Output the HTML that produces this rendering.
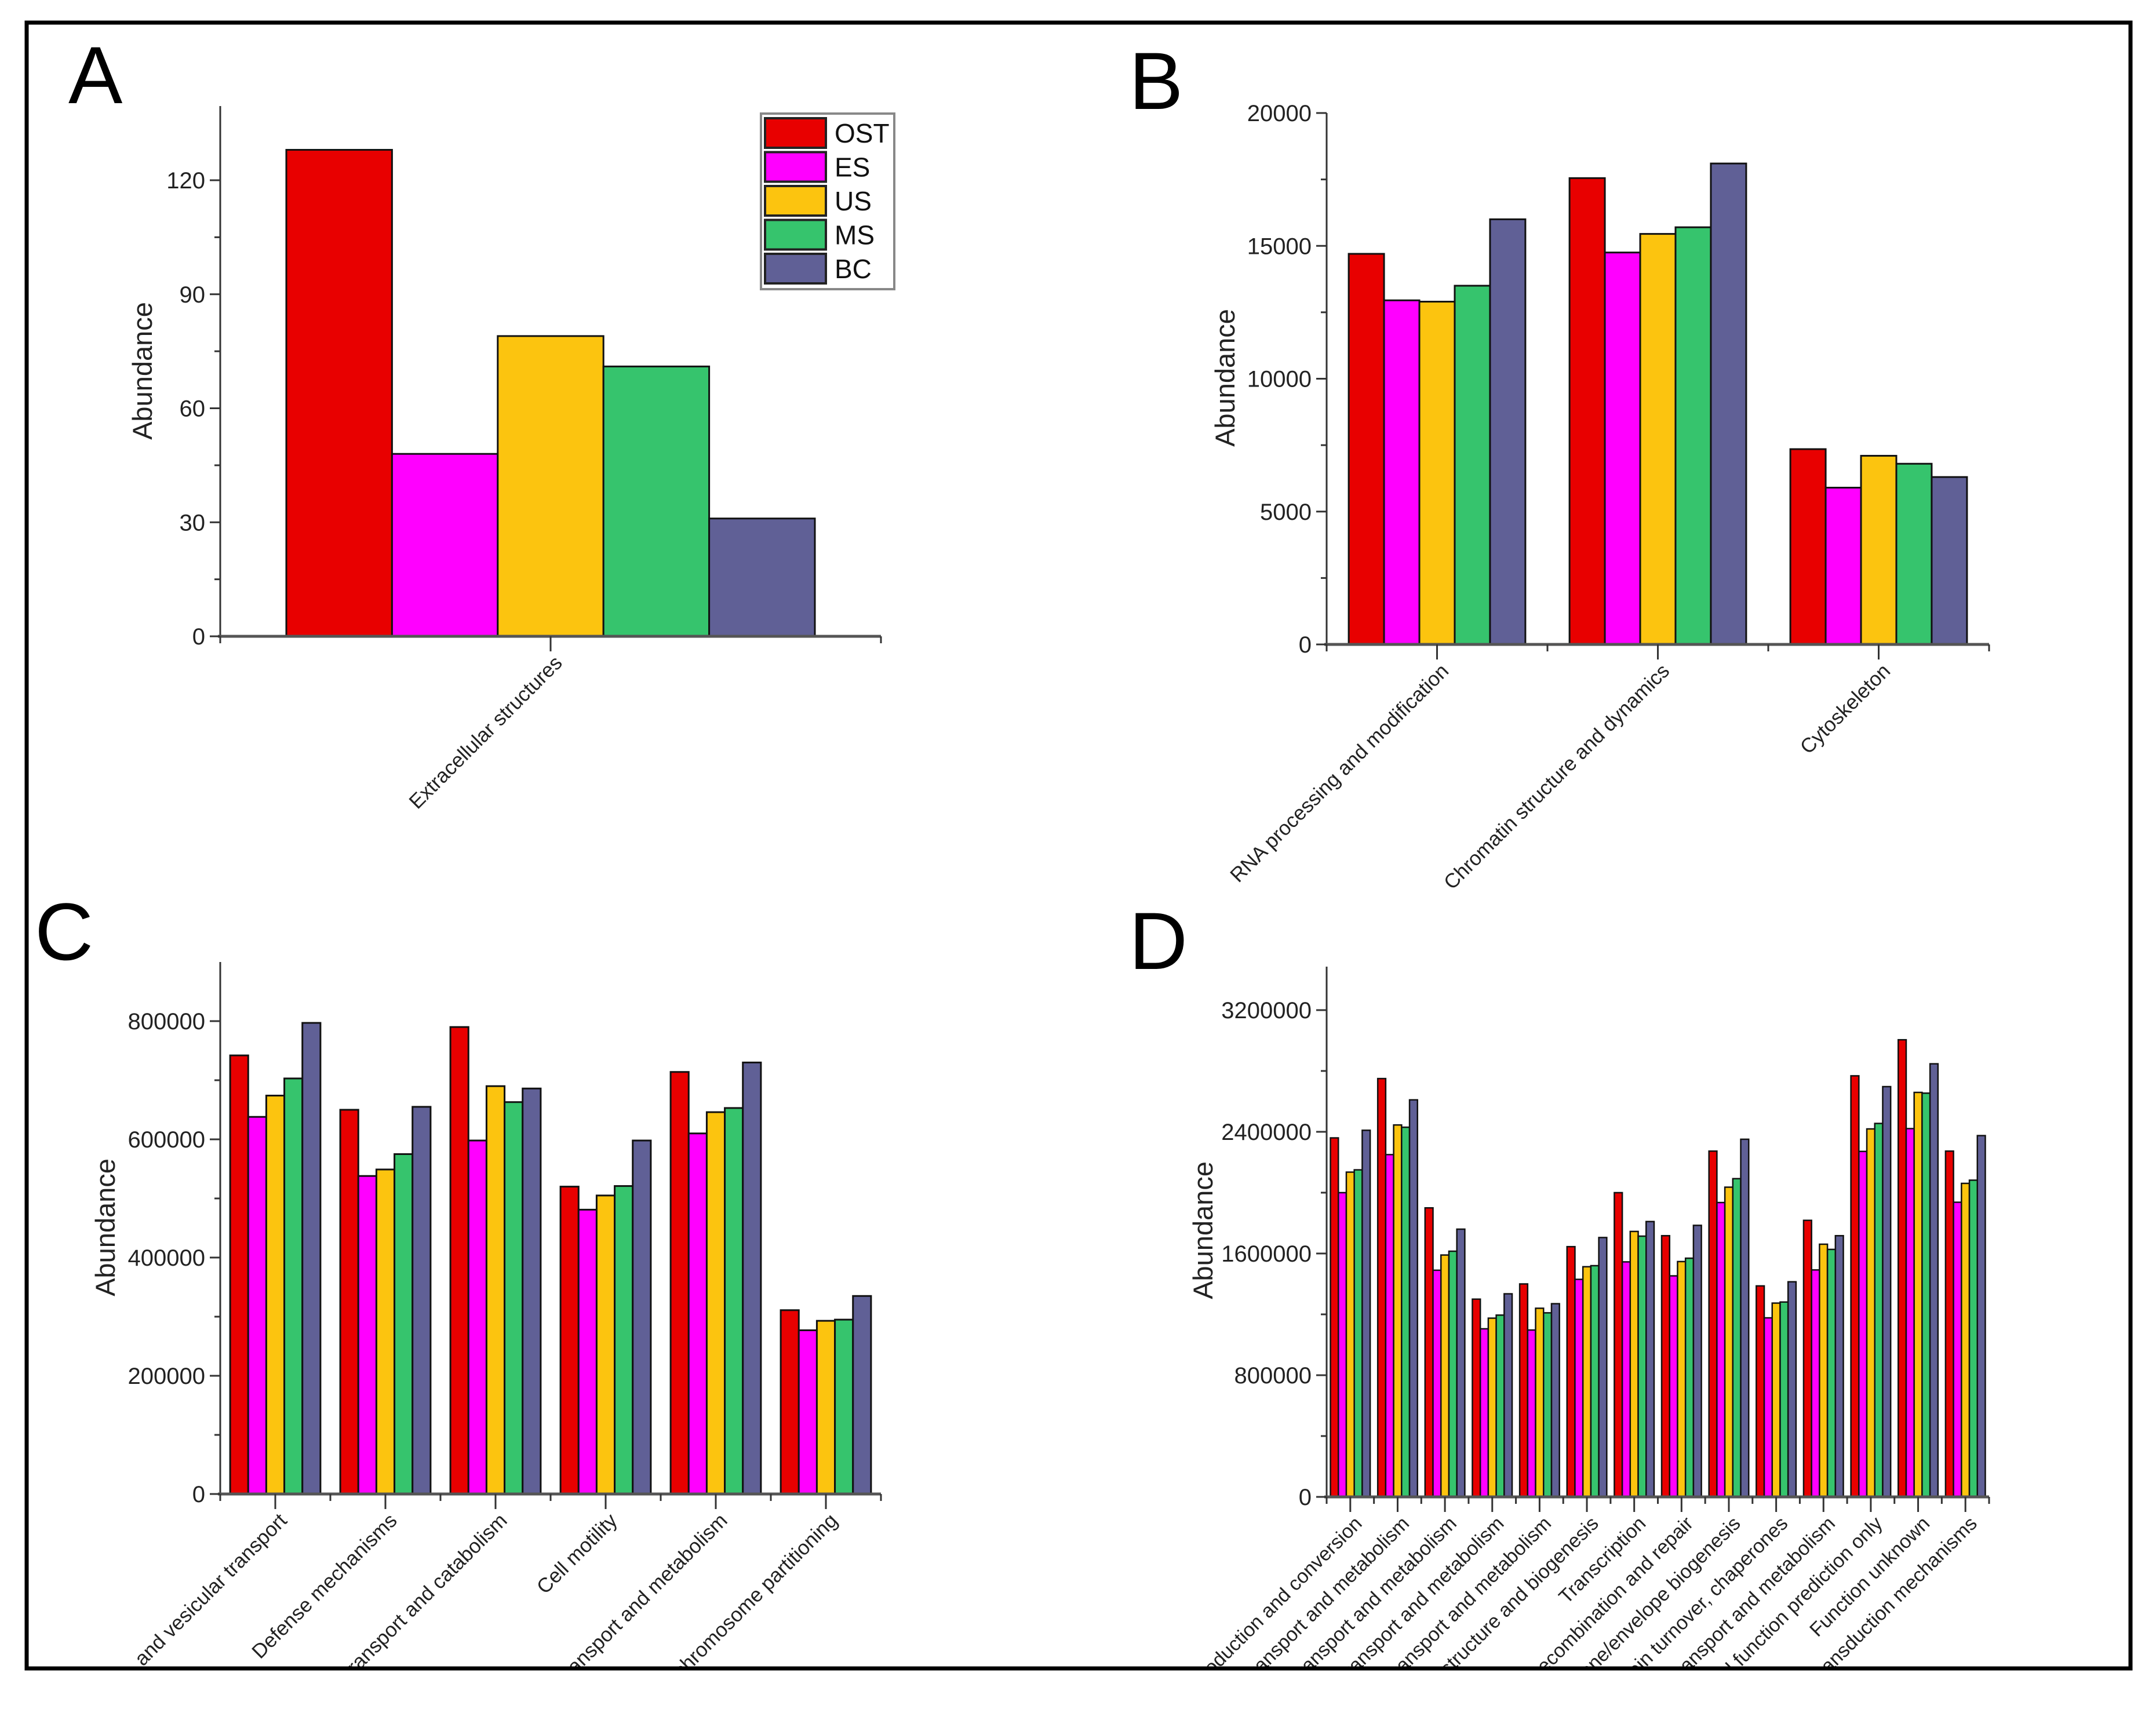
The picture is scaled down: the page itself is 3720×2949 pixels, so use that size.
<!DOCTYPE html>
<html><head><meta charset="utf-8"><style>
html,body{margin:0;padding:0;background:#fff;overflow:hidden;width:3720px;height:2949px}
svg{display:block;font-family:"Liberation Sans",Arial,sans-serif}
</style></head><body>
<svg id="fig" xmlns="http://www.w3.org/2000/svg" width="3720" height="2949" viewBox="0 0 3720 2949">
<defs><clipPath id="frameclip"><rect x="46" y="39" width="3630" height="2840"/></clipPath></defs>
<rect x="0" y="0" width="3720" height="2949" fill="#fff"/>
<g id="content" clip-path="url(#frameclip)"></g>
<rect x="46" y="39" width="3630" height="2840" fill="none" stroke="#000" stroke-width="7"/>
</svg>
<script>
const seriesNames = ["OST","ES","US","MS","BC"];
const seriesColors = ["#e80000","#ff00ff","#fcc40f","#36c46d","#606096"];

const catsA = ["Extracellular structures"];
const valsA = [[128],[48],[79],[71],[31]];
const ticksA = [0,30,60,90,120];

const catsB = ["RNA processing and modification","Chromatin structure and dynamics","Cytoskeleton"];
const ostB = [14700,17550,7350];
const esB = [12950,14750,5900];
const usB = [12900,15450,7100];
const msB = [13500,15700,6800];
const bcB = [16000,18100,6300];
const ticksB = [0,5000,10000,15000,20000];

const catsC = ["Intracellular trafficking, secretion, and vesicular transport","Defense mechanisms","Secondary metabolites biosynthesis, transport and catabolism","Cell motility","Inorganic ion transport and metabolism","Cell cycle control, cell division, chromosome partitioning"];
const ostC = [742000,650000,790000,520000,714000,311000];
const esC = [638000,538000,598000,481000,610000,277000];
const usC = [674000,549000,690000,505000,646000,293000];
const msC = [703000,575000,663000,521000,653000,295000];
const bcC = [797000,655000,686000,598000,730000,335000];
const ticksC = [0,200000,400000,600000,800000];

const catsD = ["Energy production and conversion","Carbohydrate transport and metabolism","Amino acid transport and metabolism","Nucleotide transport and metabolism","Coenzyme transport and metabolism","Translation, ribosomal structure and biogenesis","Transcription","Replication, recombination and repair","Cell wall/membrane/envelope biogenesis","Posttranslational modification, protein turnover, chaperones","Lipid transport and metabolism","General function prediction only","Function unknown","Signal transduction mechanisms"];
const ostD = [2360000,2750000,1900000,1300000,1400000,1645000,2000000,1717000,2273000,1387000,1818000,2768000,3005000,2273000];
const esD = [2000000,2250000,1490000,1105000,1097000,1430000,1545000,1453000,1935000,1177000,1492000,2271000,2421000,1937000];
const usD = [2135000,2445000,1590000,1175000,1240000,1513000,1745000,1547000,2036000,1274000,1661000,2419000,2659000,2061000];
const msD = [2150000,2430000,1615000,1195000,1210000,1520000,1714000,1569000,2092000,1281000,1627000,2455000,2654000,2082000];
const bcD = [2410000,2610000,1760000,1335000,1270000,1705000,1810000,1785000,2351000,1414000,1717000,2697000,2847000,2375000];
const ticksD = [0,800000,1600000,2400000,3200000];

const NS="http://www.w3.org/2000/svg";
const root=document.getElementById('content');
function mk(tag,attrs,parent){const e=document.createElementNS(NS,tag);for(const k in attrs)e.setAttribute(k,attrs[k]);(parent||root).appendChild(e);return e;}

function panel(p){
  const g=mk('g',{});
  
  
  const yS=v=>p.y0-(v/p.ymax)*(p.y0-p.yTop);
  const n=p.cats.length, sp=(p.x1-p.x0)/n;
  const xC=i=>p.x0+sp*(i+0.5);
  const bw=sp*p.frac/5;
  for(let s=0;s<5;s++){for(let i=0;i<n;i++){
    const v=p.series[s][i];
    const r=mk('rect',{x:xC(i)-sp*p.frac/2+s*bw,y:yS(v),width:bw,height:p.y0-yS(v),fill:seriesColors[s],stroke:'#111','stroke-width':p.sw},g);
    
    
  }}
  mk('line',{x1:p.x0,y1:p.y0,x2:p.x0,y2:p.yAxTop,stroke:'#333','stroke-width':3},g);
  mk('line',{x1:p.x0-4,y1:p.y0,x2:p.x1,y2:p.y0,stroke:'#555','stroke-width':5},g);
  p.ticks.forEach((t,k)=>{
    const y=yS(t);
    mk('line',{x1:p.x0-18,y1:y,x2:p.x0,y2:y,stroke:'#333','stroke-width':3},g);
    if(k<p.ticks.length-1){const ym=yS(t+(p.ticks[1]-p.ticks[0])/2);mk('line',{x1:p.x0-10,y1:ym,x2:p.x0,y2:ym,stroke:'#333','stroke-width':3},g);}
    const tx=mk('text',{x:p.x0-26,y:y+14,'text-anchor':'end','font-size':40,fill:'#222'},g);
    tx.textContent=t;
    
    
  });
  for(let i=0;i<=n;i++){const x=p.x0+sp*i;mk('line',{x1:x,y1:p.y0,x2:x,y2:p.y0+12,stroke:'#333','stroke-width':3},g);}
  for(let i=0;i<n;i++){
    const x=xC(i);
    mk('line',{x1:x,y1:p.y0,x2:x,y2:p.y0+26,stroke:'#333','stroke-width':3},g);
    const tx=mk('text',{x:x+22,y:p.y0+48,'text-anchor':'end','font-size':p.lfs,fill:'#222',transform:`rotate(-45 ${x+22} ${p.y0+48})`},g);
    tx.textContent=p.cats[i];
    
    
  }
  const yt=mk('text',{x:p.titleX,y:p.titleY,'text-anchor':'middle','font-size':47,fill:'#222',transform:`rotate(-90 ${p.titleX} ${p.titleY})`},g);
  yt.textContent='Abundance';
  
  
  const L=mk('text',{x:p.letX,y:p.letY,'font-size':140,fill:'#000'},g);
  L.textContent=p.letter;
  
  
}

panel({id:'a',letter:'A',letX:118,letY:178,cats:catsA,series:valsA,ticks:ticksA,ymax:120,x0:380,x1:1520,y0:1098,yTop:311,yAxTop:183,frac:0.8,sw:3,lfs:35,titleX:262,titleY:640});
panel({id:'b',letter:'B',letX:1948,letY:188,cats:catsB,series:[ostB,esB,usB,msB,bcB],ticks:ticksB,ymax:20000,x0:2289,x1:3432,y0:1112,yTop:195,yAxTop:195,frac:0.8,sw:3,lfs:35,titleX:2130,titleY:652});
panel({id:'c',letter:'C',letX:60,letY:1656,cats:catsC,series:[ostC,esC,usC,msC,bcC],ticks:ticksC,ymax:800000,x0:380,x1:1520,y0:2578,yTop:1762,yAxTop:1660,frac:0.82,sw:3,lfs:35,titleX:198,titleY:2118});
panel({id:'d',letter:'D',letX:1948,letY:1672,cats:catsD,series:[ostD,esD,usD,msD,bcD],ticks:ticksD,ymax:3200000,x0:2289,x1:3432,y0:2583,yTop:1743,yAxTop:1668,frac:0.84,sw:2.5,lfs:34,titleX:2092,titleY:2123});

const lg=mk('g',{});


mk('rect',{x:1313,y:196,width:230,height:303,fill:'#fff',stroke:'#888','stroke-width':4},lg);
seriesNames.forEach((s,k)=>{
  const y=204+k*58.5;
  mk('rect',{x:1320,y:y,width:105,height:51,fill:seriesColors[k],stroke:'#222','stroke-width':4},lg);
  const t=mk('text',{x:1440,y:y+42,'font-size':46,fill:'#111'},lg);
  t.textContent=s;
  
  
});
</script>
</body></html>
